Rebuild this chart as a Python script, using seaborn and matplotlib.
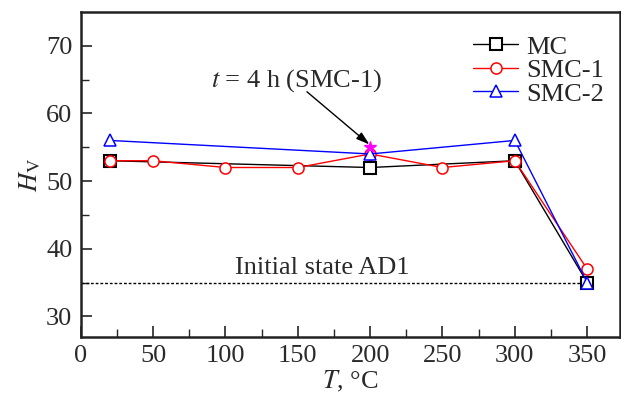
import numpy as np
import pandas as pd
import seaborn as sns
import matplotlib.pyplot as plt

# data
t_mc = [20, 200, 300, 350]
hv_mc = [53, 52, 53, 35]
t_smc1 = [20, 50, 100, 150, 200, 250, 300, 350]
hv_smc1 = [53, 53, 52, 52, 54, 52, 53, 37]
t_smc2 = [20, 200, 300, 350]
hv_smc2 = [56, 54, 56, 35]
star_t = [200]
star_hv = [55]
initial_hv = 35

sns.set_style("ticks")
plt.rcParams["font.family"] = ["Liberation Serif", "DejaVu Serif"]
plt.rcParams["mathtext.fontset"] = "stix"
txt = "#2a2a2a"

fig = plt.figure(figsize=(6.21, 3.96), dpi=100)
ax = fig.add_axes([0.130, 0.149, 0.868, 0.821])

ax.plot([0, 350], [initial_hv, initial_hv], ls=(0, (2, 1.4)), color="black", lw=1.0, zorder=1)

sns.lineplot(x=t_mc, y=hv_mc, ax=ax, color="black", marker="s", markersize=8,
             markerfacecolor="white", markeredgecolor="black", markeredgewidth=1.5,
             lw=1.0, label="MC")
sns.lineplot(x=t_smc1, y=hv_smc1, ax=ax, color="red", marker="o", markersize=8,
             markerfacecolor="white", markeredgecolor="red", markeredgewidth=1.1,
             lw=1.0, label="SMC-1")
sns.lineplot(x=t_smc2, y=hv_smc2, ax=ax, color="blue", marker="^", markersize=8,
             markerfacecolor="white", markeredgecolor="blue", markeredgewidth=1.1,
             lw=1.0, label="SMC-2")
ax.plot(star_t, star_hv, ls="none", marker="*", markersize=9, color="magenta", zorder=5)

ax.text(149, 64.9, r"$t$ = 4 h (SMC-1)", ha="center", va="center", fontsize=19, color=txt)
ax.annotate("", xy=(star_t[0] - 0.5, star_hv[0] + 0.4), xytext=(156.3, 63.2),
            arrowprops=dict(arrowstyle="-|>,head_length=0.8,head_width=0.25",
                            color="black", lw=1.0, shrinkA=0, shrinkB=0))
ax.text(167.2, 37.1, "Initial state AD1", ha="center", va="center", fontsize=19, color=txt)

ax.set_xlim(0, 372.5)
ax.set_ylim(26.95, 75)
ax.set_xticks(np.arange(0, 351, 50))
ax.set_xticks(np.arange(25, 351, 50), minor=True)
ax.set_yticks(np.arange(30, 71, 10))
ax.set_yticks(np.arange(35, 71, 10), minor=True)
ax.tick_params(axis="both", which="major", direction="in", length=8, width=1.2,
               labelsize=19, labelcolor=txt, pad=6)
ax.tick_params(axis="both", which="minor", direction="in", length=5.5, width=1.0)
for s in ax.spines.values():
    s.set_linewidth(1.8)
    s.set_color("#222222")

ax.set_xlabel(r"$T$, °C", fontsize=19, color=txt, labelpad=1)
ax.set_ylabel(r"$H_{\mathrm{V}}$", fontsize=19, color=txt, labelpad=2)

ax.legend(loc="upper right", frameon=False, fontsize=19, handlelength=1.7,
          handletextpad=0.3, labelspacing=0.0, borderaxespad=0.3,
          bbox_to_anchor=(1.005, 0.985))

fig.savefig("out.png", dpi=100)
